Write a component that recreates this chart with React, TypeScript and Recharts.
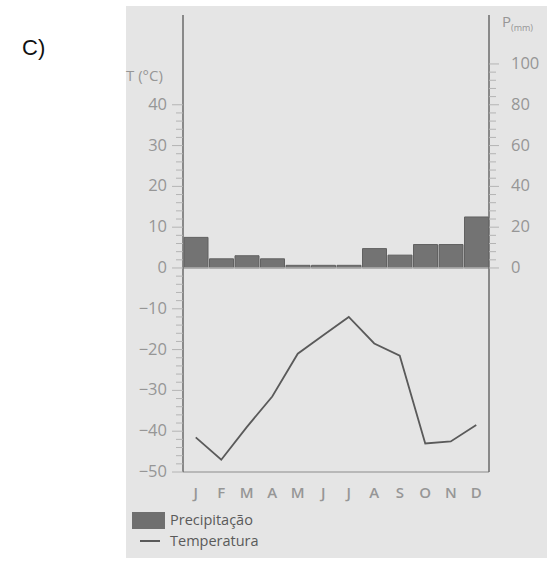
import React from 'react';
import { ComposedChart, Bar, Line, XAxis, YAxis, ReferenceLine } from 'recharts';

// climate chart C): monthly precipitation (bars, right axis) and temperature (line, left axis)
const months = ['J', 'F', 'M', 'A', 'M', 'J', 'J', 'A', 'S', 'O', 'N', 'D'];
const precipitation = [15, 4.5, 6, 4.5, 1.3, 1.3, 1.3, 9.5, 6.3, 11.5, 11.5, 25];
const temperature = [-41.5, -47, -39, -31.5, -21, -16.5, -12, -18.5, -21.5, -43, -42.5, -38.5];

const tempTicks = [
  -50, -48, -46, -44, -42, -40, -38, -36, -34, -32, -30, -28, -26, -24, -22, -20, -18, -16,
  -14, -12, -10, -8, -6, -4, -2, 0, 2, 4, 6, 8, 10, 12, 14, 16, 18, 20, 22, 24, 26, 28, 30,
  32, 34, 36, 38, 40,
];
const tempLabels = [-50, -40, -30, -20, -10, 0, 10, 20, 30, 40];
const precTicks = [0, 4, 8, 12, 16, 20, 24, 28, 32, 36, 40, 44, 48, 52, 56, 60, 64, 68, 72, 76, 80, 84, 88, 92, 96, 100];
const precLabels = [0, 20, 40, 60, 80, 100];

const data = months.map((m, i) => ({ m, p: precipitation[i], t: temperature[i] }));

const FONT = '"Open Sans", "DejaVu Sans", sans-serif';
const LABEL = '#969696';
const TICK = '#b4b4b4';

const TempTick = (props: any) => {
  const { x, y, payload } = props;
  const major = tempLabels.includes(payload.value);
  const len = major ? 11 : 7;
  return (
    <g>
      <line x1={x - len} x2={x} y1={y} y2={y} stroke={TICK} strokeWidth={1} />
      {major && (
        <text x={x - 16} y={y} dy={5} textAnchor="end" fill={LABEL} fontSize={16.5} fontFamily={FONT}>
          {payload.value < 0 ? '\u2212' + Math.abs(payload.value) : payload.value}
        </text>
      )}
    </g>
  );
};

const PrecTick = (props: any) => {
  const { x, y, payload } = props;
  const major = precLabels.includes(payload.value);
  const len = major ? 10 : 7;
  return (
    <g>
      <line x1={x} x2={x + len} y1={y} y2={y} stroke={TICK} strokeWidth={1} />
      {major && (
        <text x={x + 22} y={y} dy={5} textAnchor="start" fill={LABEL} fontSize={16.5} fontFamily={FONT}>
          {payload.value}
        </text>
      )}
    </g>
  );
};

export default function App() {
  return (
    <div style={{ position: 'absolute', left: 0, top: 0, width: 547, height: 561, background: '#fff' }}>
      <div style={{ position: 'absolute', left: 126, top: 6, width: 421, height: 552, background: '#e5e5e5' }} />
      <div
        style={{
          position: 'absolute', left: 22, top: 35, fontFamily: '"Liberation Sans", Arial, sans-serif',
          fontSize: 22, color: '#111', lineHeight: '26px',
        }}
      >
        C)
      </div>
      <div style={{ position: 'absolute', left: 126, top: 65, fontFamily: FONT, fontSize: 15, color: LABEL, lineHeight: '20px' }}>
        T (°C)
      </div>
      <div style={{ position: 'absolute', left: 502, top: 11, fontFamily: FONT, fontSize: 15, color: LABEL, lineHeight: '20px', whiteSpace: 'nowrap' }}>
        P<span style={{ fontSize: 9, position: 'relative', top: 4 }}>(mm)</span>
      </div>
      <div style={{ position: 'absolute', left: 0, top: 0 }}>
        <ComposedChart
          width={547}
          height={561}
          data={data}
          margin={{ top: 15, right: 0, bottom: 59, left: 126 }}
          barCategoryGap={1}
        >
          <XAxis
            dataKey="m"
            height={30}
            interval={0}
            tickLine={false}
            tickMargin={9}
            axisLine={{ stroke: '#a8a8a8', strokeWidth: 1.5 }}
            tick={{ fill: LABEL, fontSize: 15, fontFamily: FONT, fontWeight: 600 }}
          />
          <YAxis
            yAxisId="t"
            orientation="left"
            type="number"
            width={57}
            domain={[-50, 62]}
            ticks={tempTicks}
            interval={0}
            allowDataOverflow
            tickLine={false}
            tickSize={0}
            tickMargin={0}
            axisLine={{ stroke: '#6a6a6a', strokeWidth: 1.5 }}
            tick={(p: any) => <TempTick {...p} />}
          />
          <YAxis
            yAxisId="p"
            orientation="right"
            type="number"
            width={58}
            domain={[-100, 124]}
            ticks={precTicks}
            interval={0}
            allowDataOverflow
            tickLine={false}
            tickSize={0}
            tickMargin={0}
            axisLine={{ stroke: '#6a6a6a', strokeWidth: 1.5 }}
            tick={(p: any) => <PrecTick {...p} />}
          />
          <ReferenceLine yAxisId="t" y={0} stroke="#b3b3b3" strokeWidth={1.5} />
          <Bar yAxisId="p" dataKey="p" fill="#737373" stroke="#616161" strokeWidth={1} isAnimationActive={false} />
          <Line
            yAxisId="t"
            dataKey="t"
            type="linear"
            stroke="#5a5a5a"
            strokeWidth={1.8}
            dot={false}
            isAnimationActive={false}
          />
        </ComposedChart>
      </div>
      <div style={{ position: 'absolute', left: 132, top: 512, width: 33, height: 17, background: '#6f6f6f' }} />
      <div style={{ position: 'absolute', left: 170, top: 510, fontFamily: FONT, fontSize: 14.5, color: '#5a5a5a', lineHeight: '20px' }}>
        Precipitação
      </div>
      <div style={{ position: 'absolute', left: 140, top: 540, width: 20, height: 2, background: '#5a5a5a' }} />
      <div style={{ position: 'absolute', left: 170, top: 531, fontFamily: FONT, fontSize: 14.5, color: '#5a5a5a', lineHeight: '20px' }}>
        Temperatura
      </div>
    </div>
  );
}
